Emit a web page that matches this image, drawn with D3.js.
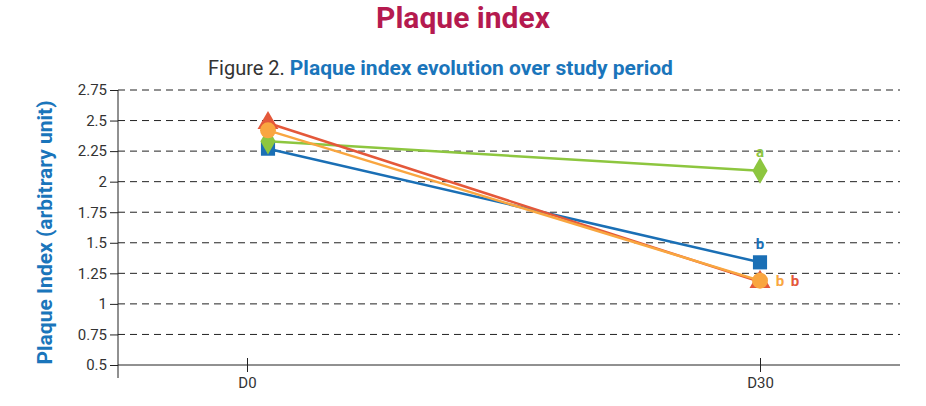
<!DOCTYPE html>
<html><head><meta charset="utf-8">
<script src="https://cdn.jsdelivr.net/npm/d3@7"></script>
<style>body{margin:0;background:#fff}</style>
</head><body>
<svg id="chart" width="926" height="406"></svg>
<script>
const days = ["D0", "D30"]
const yTicks = [0.5, 0.75, 1, 1.25, 1.5, 1.75, 2, 2.25, 2.5, 2.75]
const seriesNames = ["blue", "green", "red", "orange"]
const blueValues = [2.27, 1.34]
const greenValues = [2.33, 2.09]
const redValues = [2.48, 1.18]
const orangeValues = [2.42, 1.19]
const letters = ["b", "a", "b", "b"]

const colors = { blue: "#1a6fb5", green: "#8dc63f", red: "#e4583a", orange: "#f9a640" }
const shapes = { blue: d3.symbolSquare, green: d3.symbolDiamond, red: d3.symbolTriangle, orange: d3.symbolCircle }
const values = { blue: blueValues, green: greenValues, red: redValues, orange: orangeValues }

const svg = d3.select("#chart")
const plot = { left: 118, right: 900, top: 90, bottom: 365 }

const x = d3.scalePoint().domain(days).range([247, 760])
const y = d3.scaleLinear().domain([0.5, 2.75]).range([plot.bottom, plot.top])
const markX = (d, i) => x(d) + (i === 0 ? 21 : 0)

svg.append("text").attr("x", 463).attr("y", 28).attr("text-anchor", "middle")
  .attr("font-family", "Roboto").attr("font-weight", "bold").attr("font-size", 30)
  .attr("fill", "#b51a4f").text("Plaque index")

const sub = svg.append("text").attr("x", 208).attr("y", 75).attr("font-family", "Roboto").attr("font-size", 20)
sub.append("tspan").attr("fill", "#333").text("Figure 2. ")
sub.append("tspan").attr("fill", "#1a75bb").attr("font-weight", "bold").attr("font-size", 21)
  .text("Plaque index evolution over study period")

svg.append("text").attr("transform", `translate(52,${(plot.top + plot.bottom) / 2 + 5}) rotate(-90)`)
  .attr("text-anchor", "middle").attr("font-family", "Roboto").attr("font-weight", "bold")
  .attr("font-size", 21).attr("fill", "#1a75bb").text("Plaque Index (arbitrary unit)")

// grid
svg.append("g").selectAll("line").data(yTicks.slice(1)).join("line")
  .attr("x1", plot.left).attr("x2", plot.right).attr("y1", d => y(d)).attr("y2", d => y(d))
  .attr("stroke", "#222").attr("stroke-dasharray", "7,5")

// y axis
const yAxis = svg.append("g").attr("transform", `translate(${plot.left},0)`)
  .call(d3.axisLeft(y).tickValues(yTicks).tickFormat(d => String(d)).tickSize(8))
yAxis.select(".domain").remove()
yAxis.selectAll("text").attr("font-family", "Roboto").attr("font-size", 15).attr("fill", "#333")
yAxis.selectAll("line").attr("stroke", "#222")
svg.append("line").attr("x1", plot.left).attr("x2", plot.left).attr("y1", plot.top).attr("y2", plot.bottom + 13).attr("stroke", "#222")

// x axis
const xAxis = svg.append("g").attr("transform", `translate(0,${plot.bottom})`)
  .call(d3.axisBottom(x).tickSize(0).tickPadding(12))
xAxis.select(".domain").attr("d", `M${plot.left},0H${plot.right}`).attr("stroke", "#222")
xAxis.selectAll("text").attr("font-family", "Roboto").attr("font-size", 15).attr("fill", "#333")
xAxis.selectAll(".tick").append("line").attr("y1", -7).attr("y2", 7).attr("stroke", "#222")

const line = d3.line().x((d, i) => markX(days[i], i)).y(d => y(d))
seriesNames.forEach(s => {
  svg.append("path").datum(values[s]).attr("d", line).attr("fill", "none")
    .attr("stroke", colors[s]).attr("stroke-width", 2.5)
})
seriesNames.forEach(s => {
  svg.append("g").selectAll("path").data(values[s]).join("path")
    .attr("transform", (d, i) => `translate(${markX(days[i], i)},${y(d)})`)
    .attr("d", d3.symbol().type(shapes[s]).size(s === "red" ? 190 : 200))
    .attr("fill", colors[s])
})
// significance letters at D30
const letterPos = { blue: [760, y(blueValues[1]) - 13], green: [760, y(greenValues[1]) - 14],
  orange: [780, y(orangeValues[1]) + 5], red: [795, y(orangeValues[1]) + 5] }
seriesNames.forEach((s, i) => {
  svg.append("text").attr("x", letterPos[s][0]).attr("y", letterPos[s][1]).attr("text-anchor", "middle")
    .attr("font-family", "Roboto").attr("font-weight", "bold").attr("font-size", 15)
    .attr("fill", colors[s]).text(letters[i])
})
</script>
</body></html>
